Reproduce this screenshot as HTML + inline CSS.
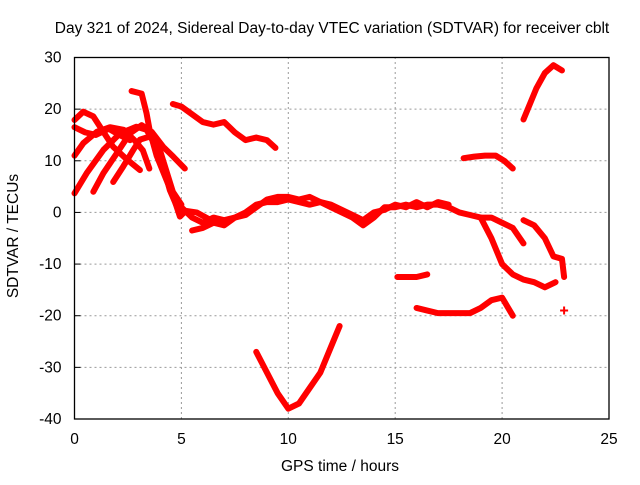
<!DOCTYPE html>
<html><head><meta charset="utf-8"><style>
body{margin:0;background:#fff}
svg text{font-family:"Liberation Sans",sans-serif;font-size:15.5px;fill:#000}
</style></head><body>
<svg id="chart" width="640" height="480" xmlns="http://www.w3.org/2000/svg">
<rect width="640" height="480" fill="#fff"/>
<g id="grid"></g>
<g id="series"></g>
<rect x="74.5" y="57.5" width="534.5" height="361.5" fill="none" stroke="#000" stroke-width="1.3"/>
<g id="ticks"></g>
<text x="332" y="33" text-anchor="middle">Day 321 of 2024, Sidereal Day-to-day VTEC variation (SDTVAR) for receiver cblt</text>
<text x="340" y="471" text-anchor="middle">GPS time / hours</text>
<text transform="translate(18,236) rotate(-90)" text-anchor="middle">SDTVAR / TECUs</text>
</svg>
<script>
const xTicks=[0,5,10,15,20,25];
const yTicks=[30,20,10,0,-10,-20,-30,-40];
const t1=[[0,3.7],[0.57,7.6],[1.35,12.1],[2.13,15.3],[2.9,16.6],[3.37,16],[3.84,12.7],[4.15,8.9],[4.46,4.3],[4.93,-0.2]];
const t2=[[0.88,4],[1.35,7.6],[1.97,11.4],[2.59,15.3],[3.14,16.9],[3.61,15.6],[4.15,12.7],[4.62,10.8],[5.16,8.5]];
const t3=[[1.81,5.9],[2.28,8.9],[2.75,12.1],[3.06,14.1],[3.53,14.7],[4.0,12],[4.3,8],[4.6,4],[5.0,1.5]];
const t4=[[0,11],[0.41,13.4],[1.04,15.6],[1.66,16.5],[2.3,16],[2.8,14],[3.2,12],[3.5,8.5]];
const t5=[[0,17.9],[0.41,19.5],[0.88,18.6],[1.35,15.6],[1.81,12.7],[2.44,10.3],[3.06,8.2]];
const t6=[[0,16.5],[0.5,15.5],[1,15],[1.6,16.2],[2.1,15],[2.6,14]];
const t7=[[2.67,23.5],[3.14,23],[3.37,19.2],[3.53,15.6],[3.84,11],[4.3,6.3],[4.62,3.1],[4.93,-0.8],[5.2,0.3],[5.71,0],[6.33,-1.4]];
const t8=[[4.6,21],[5,20.5],[5.5,19],[6,17.5],[6.5,17],[7,17.5],[7.5,15.5],[8,14],[8.5,14.5],[9,14],[9.4,12.5]];
const t9=[[5,1],[5.5,-1],[6,-2],[6.5,-1],[7,-1.5],[7.5,-1],[8,0],[8.5,1.5],[9,2],[9.5,2],[10,2.5],[10.5,2],[11,1.5],[11.5,2],[12,1],[12.5,0],[13,-1],[13.5,-2.5],[14,-1],[14.5,1],[15,1],[15.5,1.5],[16,1],[16.5,1.5],[17,1.5],[17.5,1],[18,0],[18.5,-0.5],[19,-1],[19.5,-1],[20,-2],[20.5,-3],[21,-6]];
const t10=[[5.5,-3.5],[6,-3],[6.5,-2],[7,-2.5],[7.5,-1],[8,-0.5],[8.5,1],[9,2.5],[9.5,3],[10,3],[10.5,2.5],[11,3],[11.5,2],[12,1.5],[12.5,0.5],[13,-0.5],[13.5,-1.5],[14,0],[14.5,0.5],[15,1.5],[15.5,1],[16,2],[16.5,1],[17,2],[17.5,1.5]];
const t11=[[18.2,10.5],[18.7,10.8],[19.2,11],[19.7,11],[20.1,10],[20.5,8.5]];
const t12=[[21,18],[21.3,21],[21.6,24],[22,27],[22.4,28.5],[22.8,27.5]];
const t13=[[15.1,-12.5],[15.6,-12.5],[16,-12.5],[16.5,-12]];
const t14=[[16,-18.5],[16.5,-19],[17,-19.5],[17.5,-19.5],[18,-19.5],[18.5,-19.5],[19,-18.5],[19.5,-17],[20,-16.5],[20.5,-20]];
const t15=[[19,-1],[19.5,-5],[20,-10],[20.5,-12],[21,-13],[21.5,-13.5],[22,-14.5],[22.5,-13.5]];
const t16=[[21,-1.5],[21.5,-2.5],[22,-5],[22.4,-8.5],[22.8,-9],[22.9,-12.5]];
const t17=[[8.5,-27],[9,-31],[9.5,-35],[10,-38],[10.5,-37],[11,-34],[11.5,-31],[12,-26],[12.4,-22]];
const t18=[[22.9,-19]];
const tracks=[t1,t2,t3,t4,t5,t6,t7,t8,t9,t10,t11,t12,t13,t14,t15,t16,t17,t18];
const X0=74.5,X1=609,Y0=419,Y1=57.5;
const sx=v=>X0+(v-0)/25*(X1-X0);
const sy=v=>Y0-(v+40)/70*(Y0-Y1);
const NS="http://www.w3.org/2000/svg";
const grid=document.getElementById('grid'),ticks=document.getElementById('ticks'),ser=document.getElementById('series');
function mk(tag,attrs,parent){const e=document.createElementNS(NS,tag);for(const k in attrs)e.setAttribute(k,attrs[k]);parent.appendChild(e);return e;}
xTicks.forEach(v=>{
 if(v>0&&v<25){const g=mk('line',{x1:sx(v),x2:sx(v),y1:Y0,y2:Y1,stroke:'#999','stroke-dasharray':'2,3'},grid);
 
 }
 const t=mk('text',{x:sx(v),y:Y0+25,'text-anchor':'middle'},ticks);t.textContent=v;
 
 
});
yTicks.forEach(v=>{
 if(v>-40&&v<30){const g=mk('line',{x1:X0,x2:X1,y1:sy(v),y2:sy(v),stroke:'#999','stroke-dasharray':'2,3'},grid);
 
 }
 mk('line',{x1:X0,x2:X0+6,y1:sy(v),y2:sy(v),stroke:'#000'},ticks);
 const t=mk('text',{x:X0-13,y:sy(v)+5,'text-anchor':'end'},ticks);t.textContent=v;
 
 
});
tracks.forEach((tr,i)=>{
 if(tr.length>1){
 const p=mk('polyline',{points:tr.map(d=>sx(d[0])+','+sy(d[1])).join(' '),fill:'none',stroke:'#f00','stroke-width':6,'stroke-linejoin':'round','stroke-linecap':'round'},ser);
 
 
 } else {
 const p=mk('path',{d:`M${sx(tr[0][0])-4},${sy(tr[0][1])}h8M${sx(tr[0][0])},${sy(tr[0][1])-4}v8`,stroke:'#f00','stroke-width':2},ser);
 
 
 }
});
</script>
</body></html>
